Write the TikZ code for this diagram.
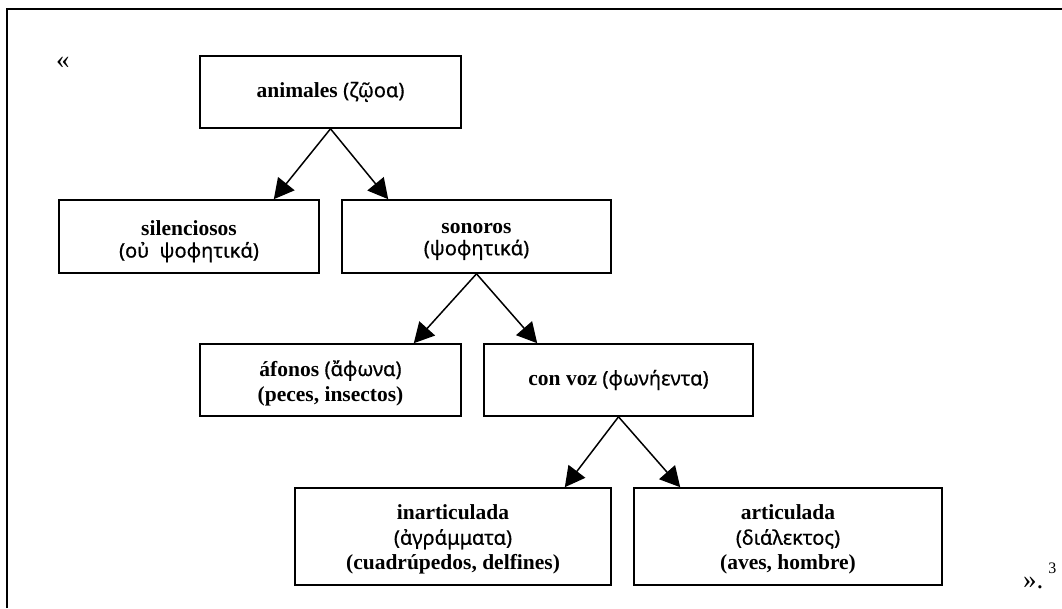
\documentclass[tikz,border=0pt]{standalone}
\usepackage{fontspec}
\setmainfont{Liberation Serif}
\newfontfamily\grk[Script=Greek,FakeBold=0.6]{Noto Sans}
\usetikzlibrary{arrows.meta}
\newcommand{\gr}[1]{{\normalfont\grk\fontsize{20}{25}\selectfont #1}}
\begin{document}
\begin{tikzpicture}[x=1pt,y=-1pt,
  box/.style={draw,line width=1.6pt,rectangle,inner sep=0pt},
  lbl/.style={inner sep=0pt,align=center,font=\fontsize{21.5}{25}\selectfont\bfseries},
  link/.style={line width=1.5pt,-{Triangle[length=20pt,width=21pt]}},
  txt/.style={inner sep=0pt,anchor=base west,font=\fontsize{27}{30}\selectfont}]
\useasboundingbox (0,0) rectangle (1062,608);
\draw[line width=2.4pt] (7,608) -- (7,9) -- (1062,9);
\node[txt] (lq) at (56,68) {«};
\node[txt] (rq) at (1023,588) {».\hspace{5pt}\raisebox{15pt}{\fontsize{16}{18}\selectfont 3}};
\node[box,minimum width=261pt,minimum height=72pt] (animales) at (330.5,92) {};
\node[lbl] (animalesT) at (animales.center) {animales \gr{(ζῷοα)}};
\node[box,minimum width=260pt,minimum height=73pt] (silenc) at (189,236.5) {};
\node[lbl,yshift=-5pt] (silencT) at (silenc.center) {silenciosos\\[-3pt]\gr{(οὐ\ \ ψοφητικά)}};
\node[box,minimum width=269pt,minimum height=73pt] (sonoros) at (476.5,236.5) {};
\node[lbl,yshift=-5pt] (sonorosT) at (sonoros.center) {sonoros\\[-3pt]\gr{(ψοφητικά)}};
\node[box,minimum width=261pt,minimum height=72pt] (afonos) at (330.5,380) {};
\node[lbl,yshift=-3pt] (afonosT) at (afonos.center) {áfonos \gr{(ἄφωνα)}\\(peces, insectos)};
\node[box,minimum width=269pt,minimum height=72pt] (convoz) at (618.5,380) {};
\node[lbl] (convozT) at (convoz.center) {con voz \gr{(φωνήεντα)}};
\node[box,minimum width=316pt,minimum height=97pt] (inart) at (453,536.5) {};
\node[lbl,yshift=-3pt] (inartT) at (inart.center) {inarticulada\\\gr{(ἀγράμματα)}\\(cuadrúpedos, delfines)};
\node[box,minimum width=308pt,minimum height=97pt] (art) at (788,536.5) {};
\node[lbl,yshift=-3pt] (artT) at (art.center) {articulada\\\gr{(διάλεκτος)}\\(aves, hombre)};
\draw[link] (animales.south) -- ([xshift=-46pt]silenc.north east);
\draw[link] (animales.south) -- ([xshift=47pt]sonoros.north west);
\draw[link] (sonoros.south) -- ([xshift=-48pt]afonos.north east);
\draw[link] (sonoros.south) -- ([xshift=54pt]convoz.north west);
\draw[link] (convoz.south) -- ([xshift=-47pt]inart.north east);
\draw[link] (convoz.south) -- ([xshift=47pt]art.north west);
\end{tikzpicture}
\end{document}
